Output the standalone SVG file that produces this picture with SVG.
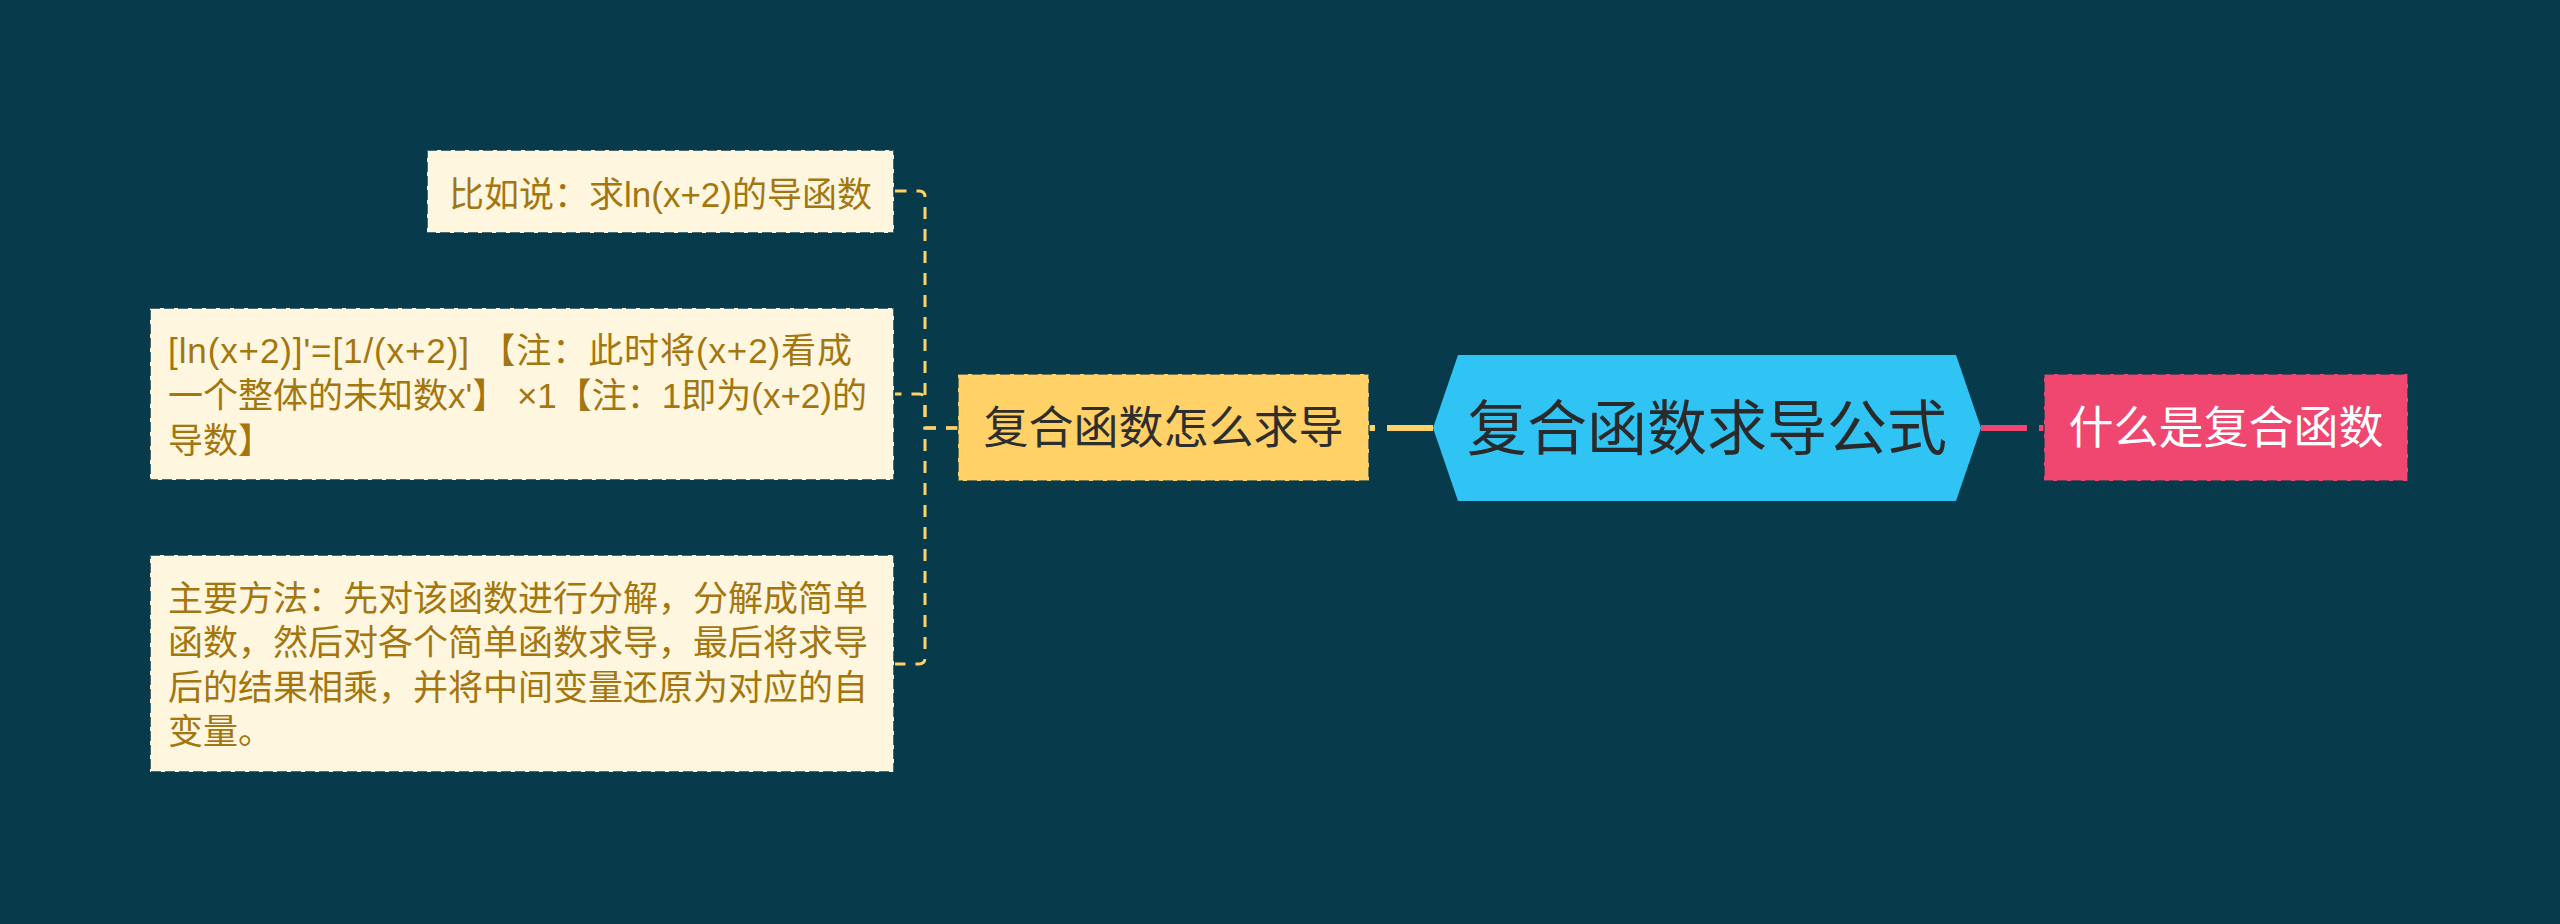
<svg xmlns="http://www.w3.org/2000/svg" width="2560" height="924" viewBox="0 0 2560 924">
  <style>
    text { font-family: "Liberation Sans", "Noto Sans CJK SC", sans-serif; }
    .leaf rect { fill: #FEF6DE; stroke: #073B4C; stroke-opacity: 0.75; stroke-width: 2; stroke-dasharray: 10 4; }
    .leaf text { fill: #A4760F; font-size: 35px; }
    .sub rect { stroke: #073B4C; stroke-opacity: 0.6; stroke-width: 2; stroke-dasharray: 10 4; }
    .thin { fill: none; stroke: #FFD166; stroke-width: 3; stroke-dasharray: 12 10; }
    .thick { fill: none; stroke-width: 6; stroke-dasharray: 46 12; }
  </style>
  <rect x="0" y="0" width="2560" height="924" fill="#073B4C"/>

  <g id="connectors">
    <path class="thick" stroke="#FFD166" d="M1433,428 L1369,428"/>
    <path class="thick" stroke="#EF476F" d="M1981,428 L2044,428"/>
    <path class="thin" d="M958,428 L925,428 L925,197 Q925,191 919,191 L895,191"/>
    <path class="thin" d="M958,428 L925,428 L925,400 Q925,394 919,394 L895,394"/>
    <path class="thin" d="M958,428 L925,428 L925,658 Q925,664 919,664 L895,664"/>
  </g>

  <g id="root">
    <polygon points="1433,428 1458,355 1956,355 1981,428 1956,501 1458,501" fill="#30C4F4"/>
    <text x="1707" y="450" font-size="60" text-anchor="middle" fill="#2a2a2a">复合函数求导公式</text>
  </g>

  <g id="node-how" class="sub">
    <rect x="958" y="374" width="411" height="107" fill="#FFD166"/>
    <text x="1163.5" y="444" font-size="45" text-anchor="middle" fill="#2e2e2e">复合函数怎么求导</text>
  </g>

  <g id="node-what" class="sub">
    <rect x="2044" y="374" width="364" height="107" fill="#EF476F"/>
    <text x="2226" y="444" font-size="45" text-anchor="middle" fill="#ffffff">什么是复合函数</text>
  </g>

  <g id="leaf-example" class="leaf">
    <rect x="427" y="150" width="467" height="83"/>
    <text x="449" y="207">比如说：求ln(x+2)的导函数</text>
  </g>

  <g id="leaf-formula" class="leaf">
    <rect x="150" y="308" width="744" height="172"/>
    <text x="168" y="363" textLength="684" lengthAdjust="spacing">[ln(x+2)]'=[1/(x+2)] 【注：此时将(x+2)看成</text>
    <text x="168" y="408">一个整体的未知数x'】 ×1【注：1即为(x+2)的</text>
    <text x="168" y="453">导数】</text>
  </g>

  <g id="leaf-method" class="leaf">
    <rect x="150" y="555" width="744" height="217"/>
    <text x="168" y="611">主要方法：先对该函数进行分解，分解成简单</text>
    <text x="168" y="655">函数，然后对各个简单函数求导，最后将求导</text>
    <text x="168" y="700">后的结果相乘，并将中间变量还原为对应的自</text>
    <text x="168" y="744">变量。</text>
  </g>
</svg>
